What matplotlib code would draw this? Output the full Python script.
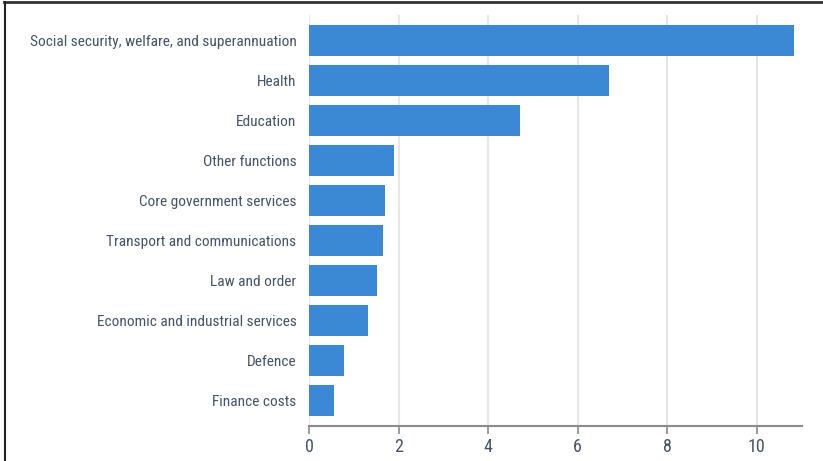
import matplotlib
matplotlib.use("Agg")
import matplotlib.pyplot as plt
from matplotlib import font_manager
from matplotlib.lines import Line2D

# spending categories, top to bottom
categories = [
    "Social security, welfare, and superannuation",
    "Health",
    "Education",
    "Other functions",
    "Core government services",
    "Transport and communications",
    "Law and order",
    "Economic and industrial services",
    "Defence",
    "Finance costs",
]
values = [10.82, 6.70, 4.72, 1.90, 1.69, 1.66, 1.52, 1.31, 0.77, 0.55]
xticks = [0, 2, 4, 6, 8, 10]

bar_color = "#3b89d4"
text_color = "#465468"

# pick a narrow font if one is around
fonts = font_manager.fontManager.ttflist
names = {f.name for f in fonts}
stretch = "normal"
family = "DejaVu Sans"
for cand in ["Liberation Sans Narrow", "Roboto Condensed", "Open Sans Condensed"]:
    if cand in names:
        family = cand
        break
else:
    if any(f.name == "DejaVu Sans" and f.stretch == "condensed" for f in fonts):
        stretch = "condensed"

plt.rcParams["font.family"] = [family, "DejaVu Sans"]
plt.rcParams["font.stretch"] = stretch

fig = plt.figure(figsize=(8.23, 4.61), dpi=100)
ax = fig.add_axes([0.3755, 0.0765, 0.5985, 0.891])

pos = list(range(len(categories)))
ax.barh(pos, values, height=0.775, color=bar_color, zorder=3)

ax.set_ylim(9.62, -0.65)
ax.set_xlim(0, 11)
ax.set_yticks(pos)
ax.set_yticklabels(categories)
ax.set_xticks(xticks)
ax.set_xticklabels([str(t) for t in xticks])

ax.grid(axis="x", color="#e6e6e6", linewidth=1.5, zorder=0)
ax.set_axisbelow(True)

for s in ["top", "right", "left"]:
    ax.spines[s].set_visible(False)
ax.spines["bottom"].set_color("#8c8c8c")
ax.spines["bottom"].set_linewidth(1.5)

ax.tick_params(axis="y", length=0, pad=9, labelsize=12, labelcolor=text_color)
ax.tick_params(axis="x", length=6, width=1.2, color="#8c8c8c", pad=3,
               labelsize=13, labelcolor=text_color)

# shrink the category labels so the longest one is as wide as in the original
fig.canvas.draw()
r = fig.canvas.get_renderer()
widest = max(t.get_window_extent(r).width for t in ax.get_yticklabels())
size = 12 * 267.0 / widest
ax.tick_params(axis="y", labelsize=min(size, 12.5))

# frame lines on top and left of the image
fig.add_artist(Line2D([0.005, 1.0], [0.995, 0.995], color="#333333", lw=2,
                      transform=fig.transFigure))
fig.add_artist(Line2D([0.0055, 0.0055], [0.0, 0.995], color="#222222", lw=1.5,
                      transform=fig.transFigure))

fig.savefig("out.png", dpi=100)
